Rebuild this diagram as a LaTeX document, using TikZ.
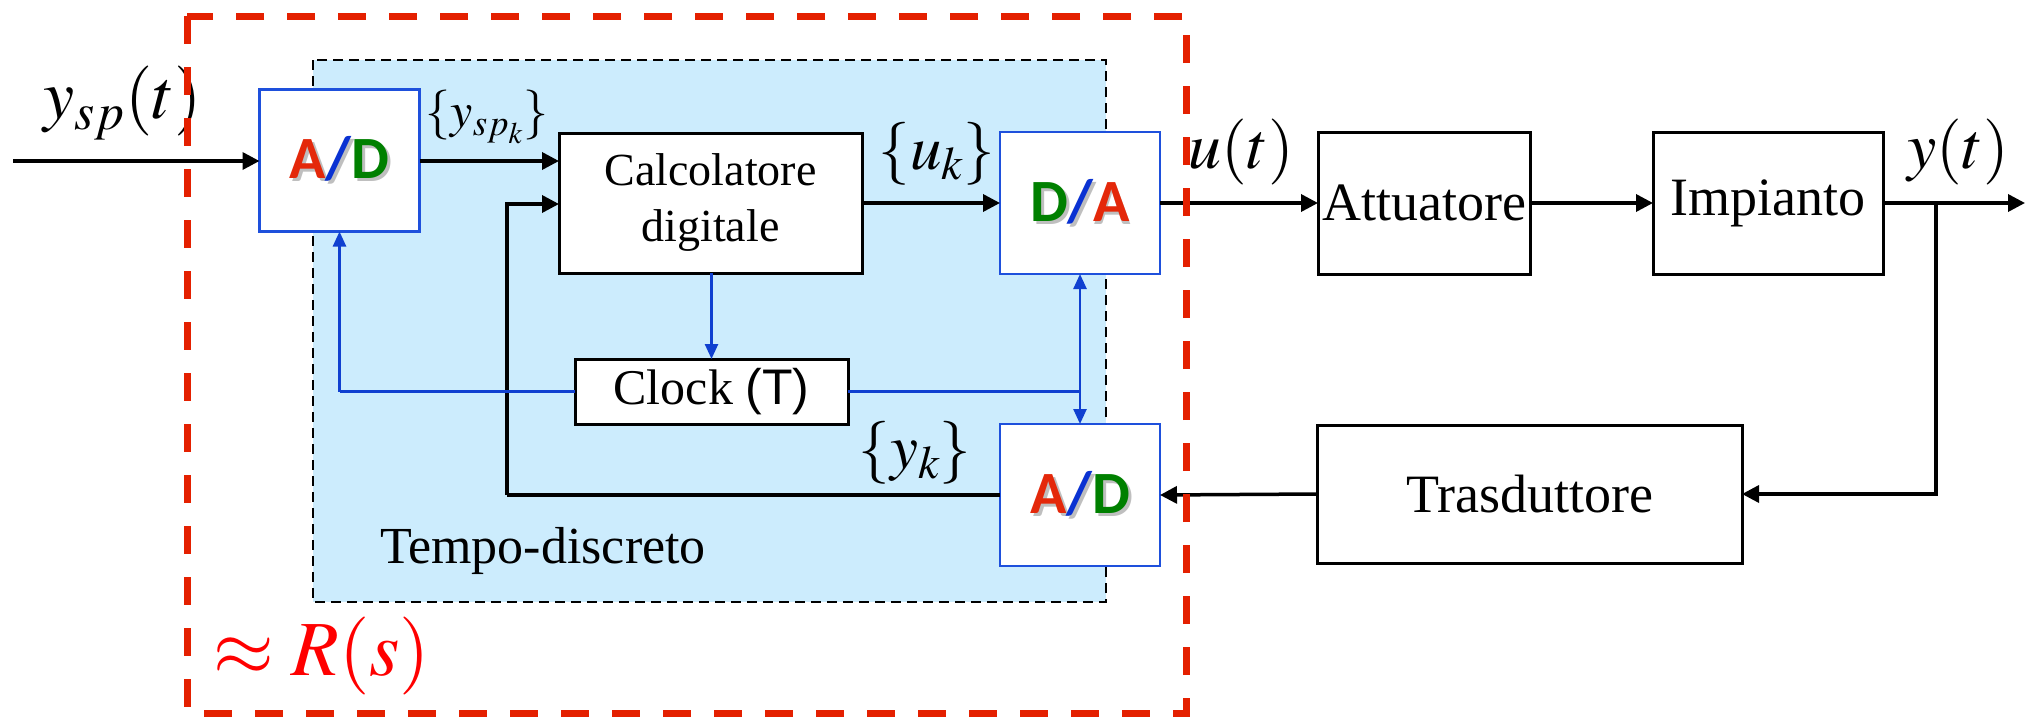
\documentclass[tikz,border=0pt]{standalone}
\usepackage{mathptmx}
\usepackage{fontspec}
\setmainfont{Liberation Serif}
\newfontfamily\adfont{Carlito}
\newfontfamily\sansT{Liberation Sans}
\usetikzlibrary{arrows.meta}

\definecolor{zoneblue}{RGB}{204,236,253}
\definecolor{lineblue}{RGB}{16,64,208}
\definecolor{boxblue}{RGB}{30,80,220}
\definecolor{adred}{RGB}{228,40,10}
\definecolor{adgreen}{RGB}{0,128,0}
\definecolor{adslash}{RGB}{10,50,210}
\definecolor{dashred}{RGB}{228,32,0}

% converter label: first letter, its colour, second letter, its colour
\newcommand{\convlabel}[4]{{\adfont\bfseries\fontsize{60}{60}\selectfont
  \rlap{\kern3pt\raisebox{-3pt}{\color{black!25}#1/#3}}%
  \textcolor{#2}{#1}\textcolor{adslash}{/}\textcolor{#4}{#3}}}

\begin{document}
\begin{tikzpicture}[x=1pt,y=-1pt,
  box/.style={draw=black,line width=3pt,fill=white,inner sep=0pt,outer sep=0pt,
    font=\fontsize{54}{60}\selectfont,align=center},
  conv/.style={draw=boxblue,line width=2.5pt,fill=white,inner sep=0pt,outer sep=0pt,
    minimum width=160pt,minimum height=142pt},
  arr/.style={line width=3.5pt,-{Triangle[length=17pt,width=17pt]}},
  plain/.style={line width=3.5pt},
  clk/.style={draw=lineblue,line width=2.5pt},
  clkarr/.style={draw=lineblue,line width=2.5pt,-{Triangle[length=15pt,width=13pt]}},
  sig/.style={inner sep=0pt,font=\fontsize{66}{70}\selectfont},
  seq/.style={inner sep=0pt,font=\fontsize{63}{70}\selectfont}]

\useasboundingbox (0,0) rectangle (2029,720);

% discrete-time zone
\draw[fill=zoneblue,draw=black,line width=2.5pt,dash pattern=on 10pt off 6pt]
  (313,60) rectangle (1106,602);

% blocks
\node[conv] (ad1) at (339.5,160.5) {\convlabel{A}{adred}{D}{adgreen}};
\node[box,minimum width=303pt,minimum height=140pt,
  font=\fontsize{46}{56}\selectfont] (calc) at (710.5,203) {Calcolatore\\digitale};
\node[conv] (da) at (1080,203) {\convlabel{D}{adgreen}{A}{adred}};
\node[box,minimum width=212pt,minimum height=142pt] (att) at (1424,203) {Attuatore};
\node[box,minimum width=230pt,minimum height=142pt] (imp) at (1768,203) {Impianto};
\node[box,minimum width=273pt,minimum height=65pt,font=\fontsize{50}{56}\selectfont]
  (clock) at (711.5,391.5) {Clock {\sansT(T)}};
\node[conv] (ad2) at (1080,495) {\convlabel{A}{adred}{D}{adgreen}};
\node[box,minimum width=425pt,minimum height=138pt] (tras) at (1529.5,494) {Trasduttore};

% signal path
\coordinate (in) at (13,161);
\coordinate (out) at (2025,203);
\coordinate (tap) at (1936,203);
\coordinate (fbk) at (507,495);
\draw[arr] (in) -- (ad1.west |- in);
\draw[arr] (ad1.east |- in) -- (calc.west |- in);
\draw[arr] (calc.east) -- (da.west);
\draw[arr] (da.east) -- (att.west);
\draw[arr] (att.east) -- (imp.west);
\draw[arr] (imp.east) -- (out);
\draw[arr] (tap) |- (tras.east);
\draw[arr] (tras.west) -- (ad2.east);
\draw[plain] (ad2.west) -- (fbk);
\draw[arr] (fbk) |- ([yshift=-1pt]calc.west);

% sampling clock
\coordinate (cl) at (ad1.south |- clock.west);
\coordinate (cr) at (da.south |- clock.east);
\draw[clkarr] (calc.south -| clock.north) -- (clock.north);
\draw[clk] (clock.west) -- (cl);
\draw[clkarr] (cl) -- (ad1.south);
\draw[clk] (clock.east) -- (cr);
\draw[clkarr] (cr) -- (da.south);
\draw[clkarr] (cr) -- (ad2.north);

% signal labels
\node[sig,font=\fontsize{70}{74}\selectfont] (lysp) at (123,103) {$y_{sp}(t)$};
\node[seq,font=\fontsize{50}{60}\selectfont] (lyspk) at (487,117) {$\{y_{sp_k}\}$};
\node[seq] (luk) at (937,154) {$\{u_k\}$};
\node[sig] (lut) at (1241,152) {$u(t)$};
\node[sig] (lyt) at (1958,152) {$y(t)$};
\node[seq] (lyk) at (915,453) {$\{y_k\}$};
\node[inner sep=0pt,font=\fontsize{52}{60}\selectfont] (ltd) at (543,551) {Tempo-discreto};

% controller boundary
\draw[dashred,line width=7pt,dash pattern=on 28pt off 23pt]
  (187,16) rectangle (1186,713);
\node[inner sep=0pt,text=red,font=\fontsize{78}{84}\selectfont] (lrs) at (322,656) {$\approx R(s)$};
\end{tikzpicture}
\end{document}
